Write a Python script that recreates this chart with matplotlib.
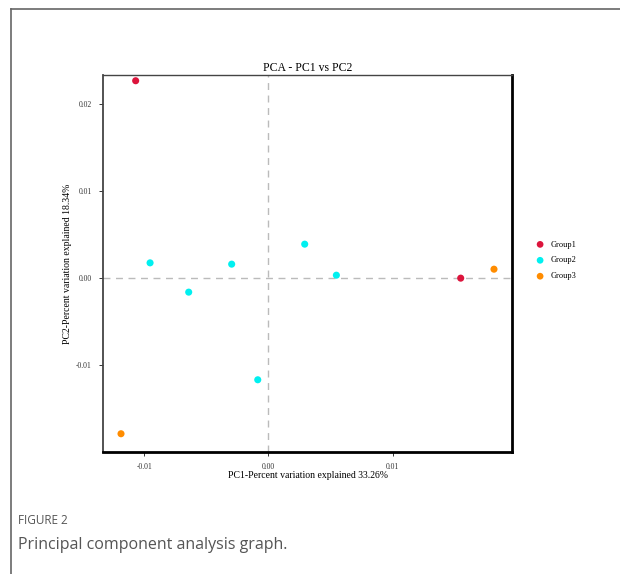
import matplotlib.pyplot as plt
from matplotlib.lines import Line2D

# PCA scores
g1_x = [-0.01068, 0.01549]
g1_y = [0.02271, 0.0]
g2_x = [-0.00952, -0.00641, -0.00295, -0.00085, 0.00293, 0.00548]
g2_y = [0.00176, -0.00161, 0.00161, -0.01169, 0.00391, 0.00034]
g3_x = [-0.01186, 0.01817]
g3_y = [-0.0179, 0.00103]

groups = ['Group1', 'Group2', 'Group3']
colors = ['#DC143C', '#00F0F0', '#FF8C00']
xticks = [-0.01, 0.0, 0.01]
yticks = [-0.01, 0.0, 0.01, 0.02]

serif = 'Liberation Serif'

fig = plt.figure(figsize=(6.2, 5.74), dpi=100)

# card border (left and top lines)
fig.add_artist(Line2D([11 / 620, 11 / 620], [0, 1 - 9 / 574], color='#666666', lw=1.2))
fig.add_artist(Line2D([11 / 620, 1], [1 - 9 / 574, 1 - 9 / 574], color='#666666', lw=1.2))

ax = fig.add_axes([103 / 620, 1 - 452 / 574, 409 / 620, 377 / 574])

ax.axhline(0, color='#BBBBBB', lw=1, ls=(0, (5, 4)), zorder=1)
ax.axvline(0, color='#BBBBBB', lw=1, ls=(0, (5, 4)), zorder=1)

for xs, ys, c, name in zip([g1_x, g2_x, g3_x], [g1_y, g2_y, g3_y], colors, groups):
    ax.scatter(xs, ys, s=26, color=c, edgecolors='none', label=name, zorder=3)

ax.set_xlim(-0.01331, 0.01962)
ax.set_ylim(-0.02, 0.02337)
ax.set_xticks(xticks)
ax.set_yticks(yticks)
ax.set_xticklabels(['%.2f' % t for t in xticks], fontfamily=serif, fontsize=5.5)
ax.set_yticklabels(['%.2f' % t for t in yticks], fontfamily=serif, fontsize=5.5)
ax.tick_params(length=3, width=0.7, colors='#333333', pad=5)

ax.spines['left'].set_color('#444444')
ax.spines['left'].set_linewidth(1.3)
ax.spines['top'].set_color('#444444')
ax.spines['top'].set_linewidth(1.0)
ax.spines['right'].set_color('black')
ax.spines['right'].set_linewidth(2)
ax.spines['bottom'].set_color('black')
ax.spines['bottom'].set_linewidth(2)

ax.set_title('PCA - PC1 vs PC2', fontfamily=serif, fontsize=8.5, pad=3)
ax.set_xlabel('PC1-Percent variation explained 33.26%', fontfamily=serif, fontsize=7, labelpad=0)
ax.set_ylabel('PC2-Percent variation explained 18.34%', fontfamily=serif, fontsize=7, labelpad=3)

ax.legend(loc='center left', bbox_to_anchor=(1.03, 0.508), frameon=False,
          prop={'family': serif, 'size': 6}, handletextpad=0.3,
          labelspacing=0.95, markerscale=0.95)

fig.text(18 / 620, 1 - 521 / 574, 'FIGURE 2', fontfamily='Open Sans', fontsize=8.5,
         color='#555555', va='center', fontweight='medium')
fig.text(18 / 620, 1 - 545 / 574, 'Principal component analysis graph.', fontfamily='Open Sans',
         fontsize=11.5, color='#555555', va='center')

fig.savefig('out.png', dpi=100)
